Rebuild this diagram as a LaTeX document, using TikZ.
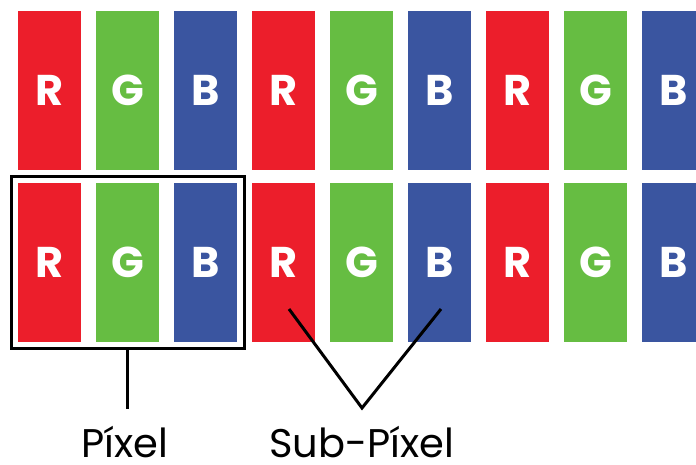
\documentclass[tikz,border=0pt]{standalone}
\usepackage{fontspec}
\setmainfont{Poppins}
\usetikzlibrary{fit,calc}
\definecolor{subR}{HTML}{EC1E2B}
\definecolor{subG}{HTML}{66BD42}
\definecolor{subB}{HTML}{3A55A0}
\tikzset{
  subpix/.style={minimum width=63pt,minimum height=159pt,inner sep=0pt,text=white,
    font=\fontsize{43}{43}\selectfont\bfseries},
  lbl/.style={font=\fontsize{40}{40}\selectfont,anchor=base,inner sep=0pt,text depth=0pt}
}
\begin{document}
\begin{tikzpicture}[x=1pt,y=-1pt,line width=3pt]
\useasboundingbox (0,0) rectangle (696,464);
\foreach \r/\y in {1/90.5,2/262.5}
{
\foreach \i/\c in {1/R,2/G,3/B,4/R,5/G,6/B,7/R,8/G,9/B}
 \node[subpix,fill=sub\c](s-\r-\i)at({49.5+78*(\i-1)},\y){\c};
}
\node[fit=(s-2-1)(s-2-3),draw,inner xsep=5.5pt,inner ysep=5pt](pixel){};
\coordinate(stem)at($(pixel.south)+(0,59)$);
\draw(pixel.south)--(stem);
\node[lbl](pixlbl)at(125,457){Píxel};
% sub-pixel pointer
\coordinate(tipL)at($(s-2-4.center)+(5.5,46.5)$);
\coordinate(tipR)at($(s-2-6.center)+(1.5,46.5)$);
\coordinate(apex)at($(s-2-5.center)+(0.5,145.5)$);
\draw(tipL)--(apex)--(tipR);
\node[lbl](sublbl)at(361.5,457){Sub-Píxel};
\end{tikzpicture}
\end{document}
